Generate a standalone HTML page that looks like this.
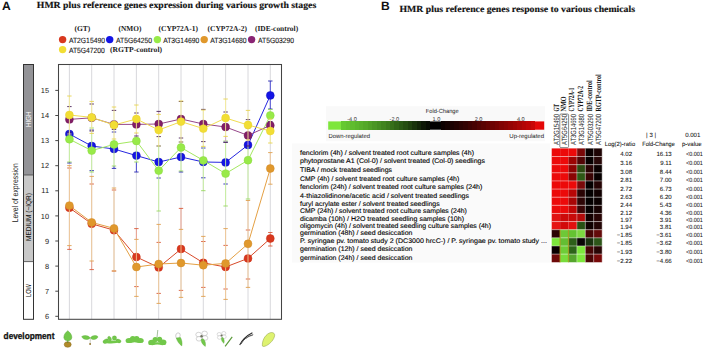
<!DOCTYPE html>
<html><head><meta charset="utf-8"><style>
html,body{margin:0;padding:0;background:#fff;}
body{width:708px;height:350px;overflow:hidden;position:relative;}
svg{position:absolute;left:0;top:0;}
text{font-family:"Liberation Sans",sans-serif;text-rendering:geometricPrecision;}
.lbl{font-size:12.1px;font-weight:bold;fill:#111;}
.tt{font-family:"Liberation Serif",serif;font-size:9.3px;font-weight:bold;fill:#111;stroke:#111;stroke-width:0.15px;}
.glab{font-family:"Liberation Serif",serif;font-size:7.6px;font-weight:bold;fill:#222;}
.gid{font-size:7.6px;fill:#111;stroke:#111;stroke-width:0.1px;}
.lvl{font-size:6.4px;}
.axl{font-size:7.4px;fill:#222;}
.tick{font-size:7.4px;fill:#222;}
.sc{font-size:5.6px;fill:#333;}
.sl{font-size:6px;fill:#222;}
.cid{font-size:7.6px;fill:#1a1a1a;}
.clab{font-family:"Liberation Serif",serif;font-size:8px;font-weight:bold;fill:#111;}
.rl{font-size:6.7px;fill:#000;stroke:#000;stroke-width:0.12px;}
.tb{font-size:6.1px;fill:#111;stroke:#111;stroke-width:0.06px;}
.dev{font-size:9.2px;font-weight:bold;fill:#111;stroke:#111;stroke-width:0.3px;}
</style></head><body>
<svg width="708" height="350" viewBox="0 0 708 350">
<text x="2" y="10.2" class="lbl">A</text>
<text x="36.8" y="8.3" class="tt" textLength="279.4" lengthAdjust="spacingAndGlyphs">HMR plus reference genes expression during various growth stages</text>
<circle cx="62.6" cy="39.6" r="3.7" fill="#d8381e"/>
<text x="68.9" y="42.5" class="gid" textLength="36.1" lengthAdjust="spacingAndGlyphs">AT2G15490</text>
<text x="74.5" y="31.4" class="glab" textLength="15.8" lengthAdjust="spacingAndGlyphs">(GT)</text>
<circle cx="109.7" cy="39.6" r="3.7" fill="#1414e6"/>
<text x="116" y="42.5" class="gid" textLength="36" lengthAdjust="spacingAndGlyphs">AT5G64250</text>
<text x="118.6" y="31.4" class="glab" textLength="22.8" lengthAdjust="spacingAndGlyphs">(NMO)</text>
<circle cx="157.4" cy="39.6" r="3.7" fill="#98ea48"/>
<text x="163.2" y="42.5" class="gid" textLength="36" lengthAdjust="spacingAndGlyphs">AT3G14690</text>
<text x="158.5" y="31.4" class="glab" textLength="39.5" lengthAdjust="spacingAndGlyphs">(CYP72A-1)</text>
<circle cx="204.2" cy="39.6" r="3.7" fill="#e0982c"/>
<text x="210.2" y="42.5" class="gid" textLength="36.4" lengthAdjust="spacingAndGlyphs">AT3G14680</text>
<text x="207.6" y="31.4" class="glab" textLength="39.4" lengthAdjust="spacingAndGlyphs">(CYP72A-2)</text>
<circle cx="251.6" cy="39.6" r="3.7" fill="#8a2474"/>
<text x="258" y="42.5" class="gid" textLength="36" lengthAdjust="spacingAndGlyphs">AT5G03290</text>
<text x="255" y="31.4" class="glab" textLength="43.1" lengthAdjust="spacingAndGlyphs">(IDE-control)</text>
<circle cx="62.6" cy="49.6" r="3.7" fill="#f2de34"/>
<text x="68.9" y="52.5" class="gid" textLength="36" lengthAdjust="spacingAndGlyphs">AT5G47200</text>
<text x="110" y="51.5" class="glab" textLength="52.1" lengthAdjust="spacingAndGlyphs">(RGTP-control)</text>
<rect x="23.5" y="64.5" width="10" height="110.5" fill="#939397"/>
<rect x="23.5" y="175" width="10" height="86.6" fill="#c8c8c8"/>
<rect x="23.5" y="64.5" width="10" height="254.8" fill="none" stroke="#333" stroke-width="1"/>
<line x1="23.5" y1="175" x2="33.5" y2="175" stroke="#444" stroke-width="0.8"/>
<line x1="23.5" y1="261.6" x2="33.5" y2="261.6" stroke="#444" stroke-width="0.8"/>
<text transform="translate(31.1,119.3) rotate(-90)" class="lvl" style="font-size:7.4px" fill="#fff" text-anchor="middle" textLength="15.5" lengthAdjust="spacingAndGlyphs">HIGH</text>
<text transform="translate(31.1,217) rotate(-90)" class="lvl" style="font-size:7.2px" fill="#111" text-anchor="middle" textLength="48" lengthAdjust="spacingAndGlyphs">MEDIUM (~IQR)</text>
<text transform="translate(30.8,290.5) rotate(-90)" class="lvl" style="font-size:7.4px" fill="#111" text-anchor="middle" textLength="13" lengthAdjust="spacingAndGlyphs">LOW</text>
<text transform="translate(18.4,192.8) rotate(-90)" class="axl" style="font-size:8.4px" text-anchor="middle" textLength="59" lengthAdjust="spacingAndGlyphs">Level of expression</text>
<line x1="69.4" y1="65" x2="69.4" y2="319" stroke="#d4d4d8" stroke-width="0.9"/>
<line x1="91.7" y1="65" x2="91.7" y2="319" stroke="#d4d4d8" stroke-width="0.9"/>
<line x1="114" y1="65" x2="114" y2="319" stroke="#d4d4d8" stroke-width="0.9"/>
<line x1="136.4" y1="65" x2="136.4" y2="319" stroke="#d4d4d8" stroke-width="0.9"/>
<line x1="158.7" y1="65" x2="158.7" y2="319" stroke="#d4d4d8" stroke-width="0.9"/>
<line x1="181" y1="65" x2="181" y2="319" stroke="#d4d4d8" stroke-width="0.9"/>
<line x1="203.3" y1="65" x2="203.3" y2="319" stroke="#d4d4d8" stroke-width="0.9"/>
<line x1="225.6" y1="65" x2="225.6" y2="319" stroke="#d4d4d8" stroke-width="0.9"/>
<line x1="248" y1="65" x2="248" y2="319" stroke="#d4d4d8" stroke-width="0.9"/>
<line x1="270.3" y1="65" x2="270.3" y2="319" stroke="#d4d4d8" stroke-width="0.9"/>
<line x1="55.3" y1="316.3" x2="58" y2="316.3" stroke="#333" stroke-width="0.9"/>
<text x="49" y="318.9" class="tick" text-anchor="end">6</text>
<line x1="55.3" y1="291.2" x2="58" y2="291.2" stroke="#333" stroke-width="0.9"/>
<text x="49" y="293.8" class="tick" text-anchor="end">7</text>
<line x1="55.3" y1="266.1" x2="58" y2="266.1" stroke="#333" stroke-width="0.9"/>
<text x="49" y="268.7" class="tick" text-anchor="end">8</text>
<line x1="55.3" y1="241" x2="58" y2="241" stroke="#333" stroke-width="0.9"/>
<text x="49" y="243.6" class="tick" text-anchor="end">9</text>
<line x1="55.3" y1="215.9" x2="58" y2="215.9" stroke="#333" stroke-width="0.9"/>
<text x="49" y="218.5" class="tick" text-anchor="end">10</text>
<line x1="55.3" y1="190.8" x2="58" y2="190.8" stroke="#333" stroke-width="0.9"/>
<text x="49" y="193.4" class="tick" text-anchor="end">11</text>
<line x1="55.3" y1="165.7" x2="58" y2="165.7" stroke="#333" stroke-width="0.9"/>
<text x="49" y="168.3" class="tick" text-anchor="end">12</text>
<line x1="55.3" y1="140.6" x2="58" y2="140.6" stroke="#333" stroke-width="0.9"/>
<text x="49" y="143.2" class="tick" text-anchor="end">13</text>
<line x1="55.3" y1="115.5" x2="58" y2="115.5" stroke="#333" stroke-width="0.9"/>
<text x="49" y="118.1" class="tick" text-anchor="end">14</text>
<line x1="55.3" y1="90.4" x2="58" y2="90.4" stroke="#333" stroke-width="0.9"/>
<text x="49" y="93" class="tick" text-anchor="end">15</text>
<line x1="69.4" y1="245.6" x2="69.4" y2="249.4" stroke="#ec9a84" stroke-width="0.9"/>
<line x1="67.2" y1="168" x2="71.6" y2="168" stroke="#d85a3a" stroke-width="0.9"/>
<line x1="67.2" y1="249.4" x2="71.6" y2="249.4" stroke="#d85a3a" stroke-width="0.9"/>
<line x1="91.7" y1="261" x2="91.7" y2="269.6" stroke="#ec9a84" stroke-width="0.9"/>
<line x1="89.5" y1="184" x2="93.9" y2="184" stroke="#d85a3a" stroke-width="0.9"/>
<line x1="89.5" y1="269.6" x2="93.9" y2="269.6" stroke="#d85a3a" stroke-width="0.9"/>
<line x1="111.8" y1="190" x2="116.2" y2="190" stroke="#d85a3a" stroke-width="0.9"/>
<line x1="111.8" y1="271" x2="116.2" y2="271" stroke="#d85a3a" stroke-width="0.9"/>
<line x1="136.4" y1="228.6" x2="136.4" y2="239.4" stroke="#ec9a84" stroke-width="0.9"/>
<line x1="134.2" y1="228.6" x2="138.6" y2="228.6" stroke="#d85a3a" stroke-width="0.9"/>
<line x1="134.2" y1="286.6" x2="138.6" y2="286.6" stroke="#d85a3a" stroke-width="0.9"/>
<line x1="156.5" y1="242.4" x2="160.9" y2="242.4" stroke="#d85a3a" stroke-width="0.9"/>
<line x1="156.5" y1="293.4" x2="160.9" y2="293.4" stroke="#d85a3a" stroke-width="0.9"/>
<line x1="181" y1="208.4" x2="181" y2="229.4" stroke="#ec9a84" stroke-width="0.9"/>
<line x1="178.8" y1="208.4" x2="183.2" y2="208.4" stroke="#d85a3a" stroke-width="0.9"/>
<line x1="178.8" y1="290.4" x2="183.2" y2="290.4" stroke="#d85a3a" stroke-width="0.9"/>
<line x1="201.1" y1="241.5" x2="205.5" y2="241.5" stroke="#d85a3a" stroke-width="0.9"/>
<line x1="201.1" y1="287.4" x2="205.5" y2="287.4" stroke="#d85a3a" stroke-width="0.9"/>
<line x1="223.4" y1="245.4" x2="227.8" y2="245.4" stroke="#d85a3a" stroke-width="0.9"/>
<line x1="223.4" y1="289" x2="227.8" y2="289" stroke="#d85a3a" stroke-width="0.9"/>
<line x1="245.8" y1="230" x2="250.2" y2="230" stroke="#d85a3a" stroke-width="0.9"/>
<line x1="245.8" y1="279" x2="250.2" y2="279" stroke="#d85a3a" stroke-width="0.9"/>
<line x1="270.3" y1="232.5" x2="270.3" y2="246" stroke="#ec9a84" stroke-width="0.9"/>
<line x1="268.1" y1="232.5" x2="272.5" y2="232.5" stroke="#d85a3a" stroke-width="0.9"/>
<line x1="268.1" y1="246" x2="272.5" y2="246" stroke="#d85a3a" stroke-width="0.9"/>
<polyline points="69.4,207.8 91.7,223.8 114,230.2 136.4,257 158.7,267.4 181,249 203.3,262.8 225.6,267 248,258.4 270.3,238.5" fill="none" stroke="#d84a2a" stroke-width="1"/>
<circle cx="69.4" cy="207.8" r="3.95" fill="#d8381e" stroke="#c83018" stroke-width="0.5"/>
<circle cx="91.7" cy="223.8" r="3.95" fill="#d8381e" stroke="#c83018" stroke-width="0.5"/>
<circle cx="114" cy="230.2" r="3.95" fill="#d8381e" stroke="#c83018" stroke-width="0.5"/>
<circle cx="136.4" cy="257" r="3.95" fill="#d8381e" stroke="#c83018" stroke-width="0.5"/>
<circle cx="158.7" cy="267.4" r="3.95" fill="#d8381e" stroke="#c83018" stroke-width="0.5"/>
<circle cx="181" cy="249" r="3.95" fill="#d8381e" stroke="#c83018" stroke-width="0.5"/>
<circle cx="203.3" cy="262.8" r="3.95" fill="#d8381e" stroke="#c83018" stroke-width="0.5"/>
<circle cx="225.6" cy="267" r="3.95" fill="#d8381e" stroke="#c83018" stroke-width="0.5"/>
<circle cx="248" cy="258.4" r="3.95" fill="#d8381e" stroke="#c83018" stroke-width="0.5"/>
<circle cx="270.3" cy="238.5" r="3.95" fill="#d8381e" stroke="#c83018" stroke-width="0.5"/>
<line x1="69.4" y1="162" x2="69.4" y2="163" stroke="#4040d4" stroke-width="0.9"/>
<line x1="67.2" y1="118" x2="71.6" y2="118" stroke="#2828b0" stroke-width="0.9"/>
<line x1="67.2" y1="163" x2="71.6" y2="163" stroke="#2828b0" stroke-width="0.9"/>
<line x1="89.5" y1="130" x2="93.9" y2="130" stroke="#2828b0" stroke-width="0.9"/>
<line x1="89.5" y1="170.6" x2="93.9" y2="170.6" stroke="#2828b0" stroke-width="0.9"/>
<line x1="114" y1="166" x2="114" y2="168.4" stroke="#4040d4" stroke-width="0.9"/>
<line x1="111.8" y1="132" x2="116.2" y2="132" stroke="#2828b0" stroke-width="0.9"/>
<line x1="111.8" y1="168.4" x2="116.2" y2="168.4" stroke="#2828b0" stroke-width="0.9"/>
<line x1="136.4" y1="162" x2="136.4" y2="172" stroke="#4040d4" stroke-width="0.9"/>
<line x1="134.2" y1="140" x2="138.6" y2="140" stroke="#2828b0" stroke-width="0.9"/>
<line x1="134.2" y1="172" x2="138.6" y2="172" stroke="#2828b0" stroke-width="0.9"/>
<line x1="156.5" y1="146" x2="160.9" y2="146" stroke="#2828b0" stroke-width="0.9"/>
<line x1="156.5" y1="178" x2="160.9" y2="178" stroke="#2828b0" stroke-width="0.9"/>
<line x1="181" y1="171" x2="181" y2="172" stroke="#4040d4" stroke-width="0.9"/>
<line x1="178.8" y1="142" x2="183.2" y2="142" stroke="#2828b0" stroke-width="0.9"/>
<line x1="178.8" y1="172" x2="183.2" y2="172" stroke="#2828b0" stroke-width="0.9"/>
<line x1="201.1" y1="148" x2="205.5" y2="148" stroke="#2828b0" stroke-width="0.9"/>
<line x1="201.1" y1="177.8" x2="205.5" y2="177.8" stroke="#2828b0" stroke-width="0.9"/>
<line x1="223.4" y1="142" x2="227.8" y2="142" stroke="#2828b0" stroke-width="0.9"/>
<line x1="223.4" y1="184" x2="227.8" y2="184" stroke="#2828b0" stroke-width="0.9"/>
<line x1="245.8" y1="128" x2="250.2" y2="128" stroke="#2828b0" stroke-width="0.9"/>
<line x1="245.8" y1="161" x2="250.2" y2="161" stroke="#2828b0" stroke-width="0.9"/>
<line x1="270.3" y1="81" x2="270.3" y2="109" stroke="#4040d4" stroke-width="0.9"/>
<line x1="268.1" y1="81" x2="272.5" y2="81" stroke="#2828b0" stroke-width="0.9"/>
<line x1="268.1" y1="109" x2="272.5" y2="109" stroke="#2828b0" stroke-width="0.9"/>
<polyline points="69.4,134 91.7,146 114,149 136.4,155.6 158.7,162 181,157 203.3,162 225.6,162.4 248,145 270.3,95.4" fill="none" stroke="#2626e0" stroke-width="1"/>
<circle cx="69.4" cy="134" r="3.95" fill="#1414e6" stroke="#1010b8" stroke-width="0.5"/>
<circle cx="91.7" cy="146" r="3.95" fill="#1414e6" stroke="#1010b8" stroke-width="0.5"/>
<circle cx="114" cy="149" r="3.95" fill="#1414e6" stroke="#1010b8" stroke-width="0.5"/>
<circle cx="136.4" cy="155.6" r="3.95" fill="#1414e6" stroke="#1010b8" stroke-width="0.5"/>
<circle cx="158.7" cy="162" r="3.95" fill="#1414e6" stroke="#1010b8" stroke-width="0.5"/>
<circle cx="181" cy="157" r="3.95" fill="#1414e6" stroke="#1010b8" stroke-width="0.5"/>
<circle cx="203.3" cy="162" r="3.95" fill="#1414e6" stroke="#1010b8" stroke-width="0.5"/>
<circle cx="225.6" cy="162.4" r="3.95" fill="#1414e6" stroke="#1010b8" stroke-width="0.5"/>
<circle cx="248" cy="145" r="3.95" fill="#1414e6" stroke="#1010b8" stroke-width="0.5"/>
<circle cx="270.3" cy="95.4" r="3.95" fill="#1414e6" stroke="#1010b8" stroke-width="0.5"/>
<line x1="69.4" y1="134" x2="69.4" y2="162" stroke="#c4f098" stroke-width="0.9"/>
<line x1="67.2" y1="116" x2="71.6" y2="116" stroke="#98d860" stroke-width="0.9"/>
<line x1="67.2" y1="162" x2="71.6" y2="162" stroke="#98d860" stroke-width="0.9"/>
<line x1="91.7" y1="133.4" x2="91.7" y2="172" stroke="#c4f098" stroke-width="0.9"/>
<line x1="89.5" y1="128" x2="93.9" y2="128" stroke="#98d860" stroke-width="0.9"/>
<line x1="89.5" y1="172" x2="93.9" y2="172" stroke="#98d860" stroke-width="0.9"/>
<line x1="114" y1="139" x2="114" y2="166" stroke="#c4f098" stroke-width="0.9"/>
<line x1="111.8" y1="122" x2="116.2" y2="122" stroke="#98d860" stroke-width="0.9"/>
<line x1="111.8" y1="166" x2="116.2" y2="166" stroke="#98d860" stroke-width="0.9"/>
<line x1="136.4" y1="136" x2="136.4" y2="162" stroke="#c4f098" stroke-width="0.9"/>
<line x1="134.2" y1="120" x2="138.6" y2="120" stroke="#98d860" stroke-width="0.9"/>
<line x1="134.2" y1="162" x2="138.6" y2="162" stroke="#98d860" stroke-width="0.9"/>
<line x1="158.7" y1="146" x2="158.7" y2="211" stroke="#c4f098" stroke-width="0.9"/>
<line x1="156.5" y1="130" x2="160.9" y2="130" stroke="#98d860" stroke-width="0.9"/>
<line x1="156.5" y1="211" x2="160.9" y2="211" stroke="#98d860" stroke-width="0.9"/>
<line x1="181" y1="142" x2="181" y2="171" stroke="#c4f098" stroke-width="0.9"/>
<line x1="178.8" y1="124" x2="183.2" y2="124" stroke="#98d860" stroke-width="0.9"/>
<line x1="178.8" y1="171" x2="183.2" y2="171" stroke="#98d860" stroke-width="0.9"/>
<line x1="203.3" y1="146.4" x2="203.3" y2="190.7" stroke="#c4f098" stroke-width="0.9"/>
<line x1="201.1" y1="131" x2="205.5" y2="131" stroke="#98d860" stroke-width="0.9"/>
<line x1="201.1" y1="190.7" x2="205.5" y2="190.7" stroke="#98d860" stroke-width="0.9"/>
<line x1="225.6" y1="142.4" x2="225.6" y2="206" stroke="#c4f098" stroke-width="0.9"/>
<line x1="223.4" y1="141" x2="227.8" y2="141" stroke="#98d860" stroke-width="0.9"/>
<line x1="223.4" y1="206" x2="227.8" y2="206" stroke="#98d860" stroke-width="0.9"/>
<line x1="248" y1="146" x2="248" y2="199" stroke="#c4f098" stroke-width="0.9"/>
<line x1="245.8" y1="122" x2="250.2" y2="122" stroke="#98d860" stroke-width="0.9"/>
<line x1="245.8" y1="199" x2="250.2" y2="199" stroke="#98d860" stroke-width="0.9"/>
<line x1="270.3" y1="109.5" x2="270.3" y2="119" stroke="#c4f098" stroke-width="0.9"/>
<line x1="268.1" y1="109.5" x2="272.5" y2="109.5" stroke="#98d860" stroke-width="0.9"/>
<line x1="268.1" y1="123" x2="272.5" y2="123" stroke="#98d860" stroke-width="0.9"/>
<polyline points="69.4,139.2 91.7,150.6 114,144.4 136.4,141 158.7,170.6 181,147.5 203.3,160.4 225.6,173.6 248,160.2 270.3,115.4" fill="none" stroke="#a4e860" stroke-width="1"/>
<circle cx="69.4" cy="139.2" r="3.95" fill="#98ea48" stroke="#88d840" stroke-width="0.5"/>
<circle cx="91.7" cy="150.6" r="3.95" fill="#98ea48" stroke="#88d840" stroke-width="0.5"/>
<circle cx="114" cy="144.4" r="3.95" fill="#98ea48" stroke="#88d840" stroke-width="0.5"/>
<circle cx="136.4" cy="141" r="3.95" fill="#98ea48" stroke="#88d840" stroke-width="0.5"/>
<circle cx="158.7" cy="170.6" r="3.95" fill="#98ea48" stroke="#88d840" stroke-width="0.5"/>
<circle cx="181" cy="147.5" r="3.95" fill="#98ea48" stroke="#88d840" stroke-width="0.5"/>
<circle cx="203.3" cy="160.4" r="3.95" fill="#98ea48" stroke="#88d840" stroke-width="0.5"/>
<circle cx="225.6" cy="173.6" r="3.95" fill="#98ea48" stroke="#88d840" stroke-width="0.5"/>
<circle cx="248" cy="160.2" r="3.95" fill="#98ea48" stroke="#88d840" stroke-width="0.5"/>
<circle cx="270.3" cy="115.4" r="3.95" fill="#98ea48" stroke="#88d840" stroke-width="0.5"/>
<line x1="69.4" y1="165.6" x2="69.4" y2="245.6" stroke="#f0c490" stroke-width="0.9"/>
<line x1="67.2" y1="165.6" x2="71.6" y2="165.6" stroke="#e0a050" stroke-width="0.9"/>
<line x1="67.2" y1="245.6" x2="71.6" y2="245.6" stroke="#e0a050" stroke-width="0.9"/>
<line x1="91.7" y1="176.4" x2="91.7" y2="261" stroke="#f0c490" stroke-width="0.9"/>
<line x1="89.5" y1="176.4" x2="93.9" y2="176.4" stroke="#e0a050" stroke-width="0.9"/>
<line x1="89.5" y1="261" x2="93.9" y2="261" stroke="#e0a050" stroke-width="0.9"/>
<line x1="114" y1="188" x2="114" y2="271" stroke="#f0c490" stroke-width="0.9"/>
<line x1="111.8" y1="188" x2="116.2" y2="188" stroke="#e0a050" stroke-width="0.9"/>
<line x1="111.8" y1="271" x2="116.2" y2="271" stroke="#e0a050" stroke-width="0.9"/>
<line x1="136.4" y1="239.4" x2="136.4" y2="296.4" stroke="#f0c490" stroke-width="0.9"/>
<line x1="134.2" y1="239.4" x2="138.6" y2="239.4" stroke="#e0a050" stroke-width="0.9"/>
<line x1="134.2" y1="296.4" x2="138.6" y2="296.4" stroke="#e0a050" stroke-width="0.9"/>
<line x1="158.7" y1="224.4" x2="158.7" y2="303.4" stroke="#f0c490" stroke-width="0.9"/>
<line x1="156.5" y1="224.4" x2="160.9" y2="224.4" stroke="#e0a050" stroke-width="0.9"/>
<line x1="156.5" y1="303.4" x2="160.9" y2="303.4" stroke="#e0a050" stroke-width="0.9"/>
<line x1="181" y1="229.4" x2="181" y2="297.4" stroke="#f0c490" stroke-width="0.9"/>
<line x1="178.8" y1="229.4" x2="183.2" y2="229.4" stroke="#e0a050" stroke-width="0.9"/>
<line x1="178.8" y1="297.4" x2="183.2" y2="297.4" stroke="#e0a050" stroke-width="0.9"/>
<line x1="203.3" y1="236.4" x2="203.3" y2="296.4" stroke="#f0c490" stroke-width="0.9"/>
<line x1="201.1" y1="236.4" x2="205.5" y2="236.4" stroke="#e0a050" stroke-width="0.9"/>
<line x1="201.1" y1="296.4" x2="205.5" y2="296.4" stroke="#e0a050" stroke-width="0.9"/>
<line x1="225.6" y1="228.6" x2="225.6" y2="299.4" stroke="#f0c490" stroke-width="0.9"/>
<line x1="223.4" y1="228.6" x2="227.8" y2="228.6" stroke="#e0a050" stroke-width="0.9"/>
<line x1="223.4" y1="299.4" x2="227.8" y2="299.4" stroke="#e0a050" stroke-width="0.9"/>
<line x1="248" y1="200.5" x2="248" y2="287.4" stroke="#f0c490" stroke-width="0.9"/>
<line x1="245.8" y1="200.5" x2="250.2" y2="200.5" stroke="#e0a050" stroke-width="0.9"/>
<line x1="245.8" y1="287.4" x2="250.2" y2="287.4" stroke="#e0a050" stroke-width="0.9"/>
<line x1="270.3" y1="152.6" x2="270.3" y2="184.2" stroke="#f0c490" stroke-width="0.9"/>
<line x1="268.1" y1="152.6" x2="272.5" y2="152.6" stroke="#e0a050" stroke-width="0.9"/>
<line x1="268.1" y1="184.2" x2="272.5" y2="184.2" stroke="#e0a050" stroke-width="0.9"/>
<polyline points="69.4,205.6 91.7,222.4 114,228.4 136.4,267 158.7,264 181,263 203.3,265.2 225.6,263.4 248,243.8 270.3,168.5" fill="none" stroke="#e4a044" stroke-width="1"/>
<circle cx="69.4" cy="205.6" r="3.95" fill="#e0982c" stroke="#d08a28" stroke-width="0.5"/>
<circle cx="91.7" cy="222.4" r="3.95" fill="#e0982c" stroke="#d08a28" stroke-width="0.5"/>
<circle cx="114" cy="228.4" r="3.95" fill="#e0982c" stroke="#d08a28" stroke-width="0.5"/>
<circle cx="136.4" cy="267" r="3.95" fill="#e0982c" stroke="#d08a28" stroke-width="0.5"/>
<circle cx="158.7" cy="264" r="3.95" fill="#e0982c" stroke="#d08a28" stroke-width="0.5"/>
<circle cx="181" cy="263" r="3.95" fill="#e0982c" stroke="#d08a28" stroke-width="0.5"/>
<circle cx="203.3" cy="265.2" r="3.95" fill="#e0982c" stroke="#d08a28" stroke-width="0.5"/>
<circle cx="225.6" cy="263.4" r="3.95" fill="#e0982c" stroke="#d08a28" stroke-width="0.5"/>
<circle cx="248" cy="243.8" r="3.95" fill="#e0982c" stroke="#d08a28" stroke-width="0.5"/>
<circle cx="270.3" cy="168.5" r="3.95" fill="#e0982c" stroke="#d08a28" stroke-width="0.5"/>
<line x1="67.2" y1="106.6" x2="71.6" y2="106.6" stroke="#4a2058" stroke-width="0.9"/>
<line x1="67.2" y1="132.2" x2="71.6" y2="132.2" stroke="#4a2058" stroke-width="0.9"/>
<line x1="89.5" y1="104" x2="93.9" y2="104" stroke="#4a2058" stroke-width="0.9"/>
<line x1="89.5" y1="131" x2="93.9" y2="131" stroke="#4a2058" stroke-width="0.9"/>
<line x1="111.8" y1="110.4" x2="116.2" y2="110.4" stroke="#4a2058" stroke-width="0.9"/>
<line x1="111.8" y1="129.4" x2="116.2" y2="129.4" stroke="#4a2058" stroke-width="0.9"/>
<line x1="136.4" y1="133" x2="136.4" y2="136" stroke="#d0a0c8" stroke-width="0.9"/>
<line x1="134.2" y1="113" x2="138.6" y2="113" stroke="#4a2058" stroke-width="0.9"/>
<line x1="134.2" y1="136" x2="138.6" y2="136" stroke="#4a2058" stroke-width="0.9"/>
<line x1="158.7" y1="111.4" x2="158.7" y2="114.4" stroke="#d0a0c8" stroke-width="0.9"/>
<line x1="156.5" y1="111.4" x2="160.9" y2="111.4" stroke="#4a2058" stroke-width="0.9"/>
<line x1="156.5" y1="136.6" x2="160.9" y2="136.6" stroke="#4a2058" stroke-width="0.9"/>
<line x1="178.8" y1="101.5" x2="183.2" y2="101.5" stroke="#4a2058" stroke-width="0.9"/>
<line x1="178.8" y1="138" x2="183.2" y2="138" stroke="#4a2058" stroke-width="0.9"/>
<line x1="203.3" y1="109.4" x2="203.3" y2="110" stroke="#d0a0c8" stroke-width="0.9"/>
<line x1="201.1" y1="109.4" x2="205.5" y2="109.4" stroke="#4a2058" stroke-width="0.9"/>
<line x1="201.1" y1="141.6" x2="205.5" y2="141.6" stroke="#4a2058" stroke-width="0.9"/>
<line x1="225.6" y1="136.4" x2="225.6" y2="142.4" stroke="#d0a0c8" stroke-width="0.9"/>
<line x1="223.4" y1="112" x2="227.8" y2="112" stroke="#4a2058" stroke-width="0.9"/>
<line x1="223.4" y1="142.4" x2="227.8" y2="142.4" stroke="#4a2058" stroke-width="0.9"/>
<line x1="248" y1="140" x2="248" y2="146" stroke="#d0a0c8" stroke-width="0.9"/>
<line x1="245.8" y1="119.6" x2="250.2" y2="119.6" stroke="#4a2058" stroke-width="0.9"/>
<line x1="245.8" y1="146" x2="250.2" y2="146" stroke="#4a2058" stroke-width="0.9"/>
<line x1="268.1" y1="121.5" x2="272.5" y2="121.5" stroke="#4a2058" stroke-width="0.9"/>
<line x1="268.1" y1="129.5" x2="272.5" y2="129.5" stroke="#4a2058" stroke-width="0.9"/>
<polyline points="69.4,119.4 91.7,117.8 114,124.4 136.4,124.4 158.7,124 181,119 203.3,124 225.6,127 248,135.4 270.3,125.4" fill="none" stroke="#96488a" stroke-width="1"/>
<circle cx="69.4" cy="119.4" r="3.95" fill="#821e66" stroke="#701858" stroke-width="0.5"/>
<circle cx="91.7" cy="117.8" r="3.95" fill="#821e66" stroke="#701858" stroke-width="0.5"/>
<circle cx="114" cy="124.4" r="3.95" fill="#821e66" stroke="#701858" stroke-width="0.5"/>
<circle cx="136.4" cy="124.4" r="3.95" fill="#821e66" stroke="#701858" stroke-width="0.5"/>
<circle cx="158.7" cy="124" r="3.95" fill="#821e66" stroke="#701858" stroke-width="0.5"/>
<circle cx="181" cy="119" r="3.95" fill="#821e66" stroke="#701858" stroke-width="0.5"/>
<circle cx="203.3" cy="124" r="3.95" fill="#821e66" stroke="#701858" stroke-width="0.5"/>
<circle cx="225.6" cy="127" r="3.95" fill="#821e66" stroke="#701858" stroke-width="0.5"/>
<circle cx="248" cy="135.4" r="3.95" fill="#821e66" stroke="#701858" stroke-width="0.5"/>
<circle cx="270.3" cy="125.4" r="3.95" fill="#821e66" stroke="#701858" stroke-width="0.5"/>
<line x1="69.4" y1="96" x2="69.4" y2="134" stroke="#f6ec96" stroke-width="0.9"/>
<line x1="67.2" y1="96" x2="71.6" y2="96" stroke="#e8d450" stroke-width="0.9"/>
<line x1="67.2" y1="134" x2="71.6" y2="134" stroke="#e8d450" stroke-width="0.9"/>
<line x1="91.7" y1="101.4" x2="91.7" y2="133.4" stroke="#f6ec96" stroke-width="0.9"/>
<line x1="89.5" y1="101.4" x2="93.9" y2="101.4" stroke="#e8d450" stroke-width="0.9"/>
<line x1="89.5" y1="133.4" x2="93.9" y2="133.4" stroke="#e8d450" stroke-width="0.9"/>
<line x1="114" y1="107" x2="114" y2="139" stroke="#f6ec96" stroke-width="0.9"/>
<line x1="111.8" y1="107" x2="116.2" y2="107" stroke="#e8d450" stroke-width="0.9"/>
<line x1="111.8" y1="139" x2="116.2" y2="139" stroke="#e8d450" stroke-width="0.9"/>
<line x1="136.4" y1="105" x2="136.4" y2="133" stroke="#f6ec96" stroke-width="0.9"/>
<line x1="134.2" y1="105" x2="138.6" y2="105" stroke="#e8d450" stroke-width="0.9"/>
<line x1="134.2" y1="133" x2="138.6" y2="133" stroke="#e8d450" stroke-width="0.9"/>
<line x1="158.7" y1="114.4" x2="158.7" y2="146" stroke="#f6ec96" stroke-width="0.9"/>
<line x1="156.5" y1="114.4" x2="160.9" y2="114.4" stroke="#e8d450" stroke-width="0.9"/>
<line x1="156.5" y1="146" x2="160.9" y2="146" stroke="#e8d450" stroke-width="0.9"/>
<line x1="181" y1="101" x2="181" y2="142" stroke="#f6ec96" stroke-width="0.9"/>
<line x1="178.8" y1="101" x2="183.2" y2="101" stroke="#e8d450" stroke-width="0.9"/>
<line x1="178.8" y1="142" x2="183.2" y2="142" stroke="#e8d450" stroke-width="0.9"/>
<line x1="203.3" y1="110" x2="203.3" y2="146.4" stroke="#f6ec96" stroke-width="0.9"/>
<line x1="201.1" y1="110" x2="205.5" y2="110" stroke="#e8d450" stroke-width="0.9"/>
<line x1="201.1" y1="146.4" x2="205.5" y2="146.4" stroke="#e8d450" stroke-width="0.9"/>
<line x1="225.6" y1="99" x2="225.6" y2="136.4" stroke="#f6ec96" stroke-width="0.9"/>
<line x1="223.4" y1="99" x2="227.8" y2="99" stroke="#e8d450" stroke-width="0.9"/>
<line x1="223.4" y1="136.4" x2="227.8" y2="136.4" stroke="#e8d450" stroke-width="0.9"/>
<line x1="248" y1="110.4" x2="248" y2="140" stroke="#f6ec96" stroke-width="0.9"/>
<line x1="245.8" y1="110.4" x2="250.2" y2="110.4" stroke="#e8d450" stroke-width="0.9"/>
<line x1="245.8" y1="140" x2="250.2" y2="140" stroke="#e8d450" stroke-width="0.9"/>
<line x1="270.3" y1="119" x2="270.3" y2="143" stroke="#f6ec96" stroke-width="0.9"/>
<line x1="268.1" y1="119" x2="272.5" y2="119" stroke="#e8d450" stroke-width="0.9"/>
<line x1="268.1" y1="143" x2="272.5" y2="143" stroke="#e8d450" stroke-width="0.9"/>
<polyline points="69.4,115 91.7,117.4 114,125 136.4,119 158.7,130 181,121.6 203.3,128.6 225.6,118 248,125 270.3,131" fill="none" stroke="#f0dc50" stroke-width="1"/>
<circle cx="69.4" cy="115" r="3.95" fill="#f2de34" stroke="#e8d030" stroke-width="0.5"/>
<circle cx="91.7" cy="117.4" r="3.95" fill="#f2de34" stroke="#e8d030" stroke-width="0.5"/>
<circle cx="114" cy="125" r="3.95" fill="#f2de34" stroke="#e8d030" stroke-width="0.5"/>
<circle cx="136.4" cy="119" r="3.95" fill="#f2de34" stroke="#e8d030" stroke-width="0.5"/>
<circle cx="158.7" cy="130" r="3.95" fill="#f2de34" stroke="#e8d030" stroke-width="0.5"/>
<circle cx="181" cy="121.6" r="3.95" fill="#f2de34" stroke="#e8d030" stroke-width="0.5"/>
<circle cx="203.3" cy="128.6" r="3.95" fill="#f2de34" stroke="#e8d030" stroke-width="0.5"/>
<circle cx="225.6" cy="118" r="3.95" fill="#f2de34" stroke="#e8d030" stroke-width="0.5"/>
<circle cx="248" cy="125" r="3.95" fill="#f2de34" stroke="#e8d030" stroke-width="0.5"/>
<circle cx="270.3" cy="131" r="3.95" fill="#f2de34" stroke="#e8d030" stroke-width="0.5"/>
<rect x="58.5" y="64.5" width="223" height="254.8" fill="none" stroke="#444" stroke-width="1.05"/>
<text x="3.6" y="339" class="dev" textLength="50.8" lengthAdjust="spacingAndGlyphs">development</text>
<text x="380.9" y="10.3" class="lbl">B</text>
<text x="399.5" y="12.3" class="tt" textLength="235.5" lengthAdjust="spacingAndGlyphs">HMR plus reference genes response to various chemicals</text>
<ellipse cx="67.7" cy="344.5" rx="3.5" ry="2.8" fill="#b08a2a" stroke="#8a6a1a" stroke-width="0.5"/>
<line x1="67.8" y1="339" x2="67.7" y2="343" stroke="#4a8a30" stroke-width="0.7"/>
<path d="M67.8,330.7 C65.5,332.6 63.7,334.8 63.9,337.6 C64.1,339.8 65.8,340.9 67.8,340.9 C69.8,340.9 71.6,339.8 71.8,337.6 C72,334.8 70.1,332.6 67.8,330.7 Z" fill="#72c84a" stroke="#5aa838" stroke-width="0.5"/>
<line x1="90.3" y1="338" x2="90.2" y2="343.4" stroke="#c8c8c0" stroke-width="0.9"/>
<circle cx="90.1" cy="344" r="0.9" fill="#8a6a20"/>
<path d="M90.2,338 C88.5,335.2 84,335 81.7,336.6 C82.8,339.6 87.5,340.6 90.2,338 Z" fill="#72c84a" stroke="#5aa838" stroke-width="0.4"/>
<path d="M90.4,338 C92.2,335.0 96.5,335 98.0,336.8 C97,339.6 92.8,340.6 90.4,338 Z" fill="#72c84a" stroke="#5aa838" stroke-width="0.4"/>
<ellipse cx="105.8" cy="341.2" rx="3" ry="2" transform="rotate(-25 105.8 341.2)" fill="#72c84a" stroke="#5aa838" stroke-width="0.3"/>
<ellipse cx="109.6" cy="338.6" rx="1.6" ry="2.5" transform="rotate(-30 109.6 338.6)" fill="#72c84a" stroke="#5aa838" stroke-width="0.3"/>
<ellipse cx="114.4" cy="338" rx="2.2" ry="2.2" fill="#72c84a" stroke="#5aa838" stroke-width="0.3"/>
<ellipse cx="118.4" cy="341" rx="2.7" ry="1.8" transform="rotate(15 118.4 341)" fill="#72c84a" stroke="#5aa838" stroke-width="0.3"/>
<path d="M103.5,342.4 C107,340.4 114,340 120.5,341.6 C117,343.8 108,344 103.5,342.4 Z" fill="#72c84a"/>
<ellipse cx="129.2" cy="340.6" rx="3.6" ry="2.5" fill="#72c84a"/>
<ellipse cx="132.8" cy="338.6" rx="2.8" ry="2.5" fill="#72c84a"/>
<ellipse cx="136.6" cy="338.4" rx="2.8" ry="2.5" fill="#72c84a"/>
<ellipse cx="140.2" cy="340.4" rx="3.5" ry="2.5" fill="#72c84a"/>
<path d="M125.6,341.8 C128,339.5 141,339.5 143.7,341.6 C142,343.4 139,343.2 134.6,342.3 C130.5,343.2 127,343.4 125.6,341.8 Z" fill="#72c84a"/>
<line x1="157.8" y1="330" x2="156.9" y2="338.5" stroke="#98b890" stroke-width="0.9"/>
<ellipse cx="151.8" cy="342.4" rx="3.6" ry="2.6" fill="#72c84a"/>
<ellipse cx="155.2" cy="339.6" rx="2.6" ry="2.6" fill="#72c84a"/>
<ellipse cx="159.6" cy="339.4" rx="2.6" ry="2.6" fill="#72c84a"/>
<ellipse cx="163" cy="342.2" rx="3.4" ry="2.6" fill="#72c84a"/>
<path d="M148.2,344 C150,341.5 164,341.5 166.3,344 C164.5,345.6 161,345.2 157.3,344.6 C153.5,345.2 150,345.6 148.2,344 Z" fill="#72c84a"/>
<path d="M177.6,333 C175.6,333.5 175.2,336 176.4,338.3 L178.8,338.4 C180.5,336.5 180.6,333.8 179.2,333 Z" fill="#fff" stroke="#9a9a9a" stroke-width="0.5"/>
<path d="M176.3,338 C177,341 179.5,344.5 181.8,345.9 C182.6,343 181.6,339.6 180.5,337.5 Z" fill="#72c84a" stroke="#5aa838" stroke-width="0.4"/>
<ellipse cx="198.6" cy="334.6" rx="2.8" ry="2.3" fill="#fff" stroke="#a0a0a0" stroke-width="0.45"/>
<ellipse cx="204.6" cy="333.4" rx="2.8" ry="2.3" fill="#fff" stroke="#a0a0a0" stroke-width="0.45"/>
<ellipse cx="199.0" cy="338.8" rx="2.8" ry="2.3" fill="#fff" stroke="#a0a0a0" stroke-width="0.45"/>
<ellipse cx="205.1" cy="338.0" rx="2.8" ry="2.3" fill="#fff" stroke="#a0a0a0" stroke-width="0.45"/>
<circle cx="201.6" cy="336.3" r="1.2" fill="#707060"/>
<path d="M201.2,339.2 C200.8,342 203,345 205.3,346.4 C206,343.5 205,340.5 203.2,338.8 Z" fill="#72c84a" stroke="#5aa838" stroke-width="0.4"/>
<ellipse cx="219.2" cy="334.3" rx="2.1" ry="1.8" fill="#fff" stroke="#a8a8a8" stroke-width="0.4"/>
<ellipse cx="223.8" cy="333.3" rx="2.1" ry="1.8" fill="#fff" stroke="#a8a8a8" stroke-width="0.4"/>
<ellipse cx="219.5" cy="337.5" rx="2.1" ry="1.8" fill="#fff" stroke="#a8a8a8" stroke-width="0.4"/>
<ellipse cx="224.1" cy="336.8" rx="2.1" ry="1.8" fill="#fff" stroke="#a8a8a8" stroke-width="0.4"/>
<circle cx="221.6" cy="335.5" r="1" fill="#707060"/>
<path d="M221.6,337.8 C221,340 222.4,342.4 223.9,343.3 C224.6,341.2 224,339 223,337.6 Z" fill="#72c84a" stroke="#5aa838" stroke-width="0.4"/>
<line x1="225.1" y1="346.4" x2="232.2" y2="336.9" stroke="#5a9a3a" stroke-width="1.2"/>
<path d="M239.7,345 C242.5,339.5 246.5,335.8 252.4,332.8" fill="none" stroke="#2a2a2a" stroke-width="1.1"/>
<path d="M241,344 C243.8,339 247.5,336.3 253.2,334.6" fill="none" stroke="#3a3a3a" stroke-width="0.8"/>
<path d="M246,338.4 C248,336.8 250,335.6 252.6,335.4" fill="none" stroke="#555" stroke-width="0.6"/>
<path d="M262.4,346 C261.8,341.5 264.5,335.5 269,333.2 C272.2,331.6 275.2,333 274.6,335.8 C274,339.5 270.5,343.5 266.5,345.6 C264.5,346.6 262.7,346.8 262.4,346 Z" fill="#def270" stroke="#8a9a40" stroke-width="0.5"/>
<rect x="326" y="106.2" width="219" height="35" fill="#f9f9f9"/>
<rect x="292" y="143.5" width="258" height="119" fill="#fafafa"/>
<rect x="328.2" y="121.4" width="13" height="8.3" fill="#7ee63c"/>
<rect x="341.2" y="121.4" width="4.84" height="8.3" fill="rgb(102, 201, 49)" shape-rendering="crispEdges"/>
<rect x="345.64" y="121.4" width="4.84" height="8.3" fill="rgb(99, 194, 48)" shape-rendering="crispEdges"/>
<rect x="350.08" y="121.4" width="4.84" height="8.3" fill="rgb(95, 188, 46)" shape-rendering="crispEdges"/>
<rect x="354.52" y="121.4" width="4.84" height="8.3" fill="rgb(91, 182, 44)" shape-rendering="crispEdges"/>
<rect x="358.96" y="121.4" width="4.84" height="8.3" fill="rgb(88, 175, 43)" shape-rendering="crispEdges"/>
<rect x="363.4" y="121.4" width="4.84" height="8.3" fill="rgb(84, 168, 41)" shape-rendering="crispEdges"/>
<rect x="367.84" y="121.4" width="4.84" height="8.3" fill="rgb(79, 159, 38)" shape-rendering="crispEdges"/>
<rect x="372.28" y="121.4" width="4.84" height="8.3" fill="rgb(74, 150, 36)" shape-rendering="crispEdges"/>
<rect x="376.72" y="121.4" width="4.84" height="8.3" fill="rgb(69, 141, 34)" shape-rendering="crispEdges"/>
<rect x="381.16" y="121.4" width="4.84" height="8.3" fill="rgb(64, 132, 31)" shape-rendering="crispEdges"/>
<rect x="385.6" y="121.4" width="4.84" height="8.3" fill="rgb(59, 122, 29)" shape-rendering="crispEdges"/>
<rect x="390.04" y="121.4" width="4.84" height="8.3" fill="rgb(54, 111, 26)" shape-rendering="crispEdges"/>
<rect x="394.48" y="121.4" width="4.84" height="8.3" fill="rgb(48, 100, 23)" shape-rendering="crispEdges"/>
<rect x="398.92" y="121.4" width="4.84" height="8.3" fill="rgb(42, 89, 20)" shape-rendering="crispEdges"/>
<rect x="403.36" y="121.4" width="4.84" height="8.3" fill="rgb(37, 78, 17)" shape-rendering="crispEdges"/>
<rect x="407.8" y="121.4" width="4.84" height="8.3" fill="rgb(31, 65, 14)" shape-rendering="crispEdges"/>
<rect x="412.24" y="121.4" width="4.84" height="8.3" fill="rgb(24, 51, 11)" shape-rendering="crispEdges"/>
<rect x="416.68" y="121.4" width="4.84" height="8.3" fill="rgb(18, 37, 8)" shape-rendering="crispEdges"/>
<rect x="421.12" y="121.4" width="4.84" height="8.3" fill="rgb(12, 23, 5)" shape-rendering="crispEdges"/>
<rect x="425.56" y="121.4" width="4.84" height="8.3" fill="rgb(7, 12, 3)" shape-rendering="crispEdges"/>
<rect x="430" y="121.4" width="11" height="8.3" fill="#020000"/>
<rect x="441" y="121.4" width="4.88" height="8.3" fill="rgb(12, 0, 0)" shape-rendering="crispEdges"/>
<rect x="445.48" y="121.4" width="4.88" height="8.3" fill="rgb(20, 1, 1)" shape-rendering="crispEdges"/>
<rect x="449.95" y="121.4" width="4.88" height="8.3" fill="rgb(28, 1, 1)" shape-rendering="crispEdges"/>
<rect x="454.43" y="121.4" width="4.88" height="8.3" fill="rgb(36, 1, 1)" shape-rendering="crispEdges"/>
<rect x="458.9" y="121.4" width="4.88" height="8.3" fill="rgb(44, 2, 2)" shape-rendering="crispEdges"/>
<rect x="463.38" y="121.4" width="4.88" height="8.3" fill="rgb(52, 2, 2)" shape-rendering="crispEdges"/>
<rect x="467.86" y="121.4" width="4.88" height="8.3" fill="rgb(62, 2, 2)" shape-rendering="crispEdges"/>
<rect x="472.33" y="121.4" width="4.88" height="8.3" fill="rgb(71, 2, 2)" shape-rendering="crispEdges"/>
<rect x="476.81" y="121.4" width="4.88" height="8.3" fill="rgb(81, 3, 3)" shape-rendering="crispEdges"/>
<rect x="481.29" y="121.4" width="4.88" height="8.3" fill="rgb(90, 3, 3)" shape-rendering="crispEdges"/>
<rect x="485.76" y="121.4" width="4.88" height="8.3" fill="rgb(100, 3, 3)" shape-rendering="crispEdges"/>
<rect x="490.24" y="121.4" width="4.88" height="8.3" fill="rgb(110, 3, 3)" shape-rendering="crispEdges"/>
<rect x="494.71" y="121.4" width="4.88" height="8.3" fill="rgb(119, 3, 3)" shape-rendering="crispEdges"/>
<rect x="499.19" y="121.4" width="4.88" height="8.3" fill="rgb(129, 4, 4)" shape-rendering="crispEdges"/>
<rect x="503.67" y="121.4" width="4.88" height="8.3" fill="rgb(138, 4, 4)" shape-rendering="crispEdges"/>
<rect x="508.14" y="121.4" width="4.88" height="8.3" fill="rgb(148, 4, 4)" shape-rendering="crispEdges"/>
<rect x="512.62" y="121.4" width="4.88" height="8.3" fill="rgb(158, 4, 4)" shape-rendering="crispEdges"/>
<rect x="517.1" y="121.4" width="4.88" height="8.3" fill="rgb(168, 5, 5)" shape-rendering="crispEdges"/>
<rect x="521.57" y="121.4" width="4.88" height="8.3" fill="rgb(179, 5, 5)" shape-rendering="crispEdges"/>
<rect x="526.05" y="121.4" width="4.88" height="8.3" fill="rgb(189, 5, 5)" shape-rendering="crispEdges"/>
<rect x="530.52" y="121.4" width="4.88" height="8.3" fill="rgb(200, 6, 6)" shape-rendering="crispEdges"/>
<rect x="535" y="121.4" width="9.2" height="8.3" fill="#e40808"/>
<text x="352" y="120.6" class="sc" text-anchor="middle">-4.0</text>
<text x="394.4" y="120.6" class="sc" text-anchor="middle">-2.0</text>
<text x="436.4" y="120.6" class="sc" text-anchor="middle">1.0</text>
<text x="478.6" y="120.6" class="sc" text-anchor="middle">2.0</text>
<text x="520.8" y="120.6" class="sc" text-anchor="middle">4.0</text>
<text x="425.8" y="112.8" class="sl" textLength="32.8" lengthAdjust="spacingAndGlyphs">Fold-Change</text>
<text x="328.5" y="138" class="sl" textLength="41.5" lengthAdjust="spacingAndGlyphs">Down-regulated</text>
<text x="509.3" y="138" class="sl" textLength="34.7" lengthAdjust="spacingAndGlyphs">Up-regulated</text>
<text transform="translate(558.9,145) rotate(-90)" class="cid" textLength="31" lengthAdjust="spacingAndGlyphs">AT2G15490</text>
<text transform="translate(559.2,111.5) rotate(-90)" class="clab" textLength="7.5" lengthAdjust="spacingAndGlyphs">GT</text>
<text transform="translate(567.3,145) rotate(-90)" class="cid" textLength="31" lengthAdjust="spacingAndGlyphs">AT5G64250</text>
<text transform="translate(566.4,111.5) rotate(-90)" class="clab" textLength="15.2" lengthAdjust="spacingAndGlyphs">NMO</text>
<text transform="translate(575.7,145) rotate(-90)" class="cid" textLength="31" lengthAdjust="spacingAndGlyphs">AT3G14690</text>
<text transform="translate(574.2,111.5) rotate(-90)" class="clab" textLength="23.9" lengthAdjust="spacingAndGlyphs">CYP72A-1</text>
<text transform="translate(584.1,145) rotate(-90)" class="cid" textLength="31" lengthAdjust="spacingAndGlyphs">AT3G14680</text>
<text transform="translate(582.8,111.5) rotate(-90)" class="clab" textLength="25.5" lengthAdjust="spacingAndGlyphs">CYP72A-2</text>
<text transform="translate(592.5,145) rotate(-90)" class="cid" textLength="31" lengthAdjust="spacingAndGlyphs">AT5G03290</text>
<text transform="translate(591.8,111.5) rotate(-90)" class="clab" textLength="31.3" lengthAdjust="spacingAndGlyphs">IDE-control</text>
<text transform="translate(600.9,145) rotate(-90)" class="cid" textLength="31" lengthAdjust="spacingAndGlyphs">AT5G47200</text>
<text transform="translate(600.6,111.5) rotate(-90)" class="clab" textLength="37.3" lengthAdjust="spacingAndGlyphs">RGTP-control</text>
<rect x="559.8" y="114" width="8.8" height="33.6" rx="1.2" fill="none" stroke="#6a6a6a" stroke-width="0.8"/>
<rect x="551.7" y="148.4" width="8.45" height="8.18" fill="#ec0a0a"/>
<rect x="560.1" y="148.4" width="8.45" height="8.18" fill="#ec0a0a"/>
<rect x="568.5" y="148.4" width="8.45" height="8.18" fill="#ec0a0a"/>
<rect x="576.9" y="148.4" width="8.45" height="8.18" fill="#7a0808"/>
<rect x="585.3" y="148.4" width="8.45" height="8.18" fill="#0a0000"/>
<rect x="593.7" y="148.4" width="8.45" height="8.18" fill="#1e0404"/>
<rect x="551.7" y="156.53" width="8.45" height="8.18" fill="#ec0a0a"/>
<rect x="560.1" y="156.53" width="8.45" height="8.18" fill="#ec0a0a"/>
<rect x="568.5" y="156.53" width="8.45" height="8.18" fill="#9c0404"/>
<rect x="576.9" y="156.53" width="8.45" height="8.18" fill="#520606"/>
<rect x="585.3" y="156.53" width="8.45" height="8.18" fill="#060000"/>
<rect x="593.7" y="156.53" width="8.45" height="8.18" fill="#280808"/>
<rect x="551.7" y="164.66" width="8.45" height="8.18" fill="#ec0a0a"/>
<rect x="560.1" y="164.66" width="8.45" height="8.18" fill="#ec0a0a"/>
<rect x="568.5" y="164.66" width="8.45" height="8.18" fill="#8c0404"/>
<rect x="576.9" y="164.66" width="8.45" height="8.18" fill="#2c4a12"/>
<rect x="585.3" y="164.66" width="8.45" height="8.18" fill="#2a0404"/>
<rect x="593.7" y="164.66" width="8.45" height="8.18" fill="#0a0000"/>
<rect x="551.7" y="172.79" width="8.45" height="8.18" fill="#ec0a0a"/>
<rect x="560.1" y="172.79" width="8.45" height="8.18" fill="#ec0a0a"/>
<rect x="568.5" y="172.79" width="8.45" height="8.18" fill="#8a0404"/>
<rect x="576.9" y="172.79" width="8.45" height="8.18" fill="#2e5a16"/>
<rect x="585.3" y="172.79" width="8.45" height="8.18" fill="#3a0404"/>
<rect x="593.7" y="172.79" width="8.45" height="8.18" fill="#080000"/>
<rect x="551.7" y="180.92" width="8.45" height="8.18" fill="#ec0a0a"/>
<rect x="560.1" y="180.92" width="8.45" height="8.18" fill="#ec0a0a"/>
<rect x="568.5" y="180.92" width="8.45" height="8.18" fill="#ec0a0a"/>
<rect x="576.9" y="180.92" width="8.45" height="8.18" fill="#7a0a0a"/>
<rect x="585.3" y="180.92" width="8.45" height="8.18" fill="#040000"/>
<rect x="593.7" y="180.92" width="8.45" height="8.18" fill="#240404"/>
<rect x="551.7" y="189.05" width="8.45" height="8.18" fill="#ec0a0a"/>
<rect x="560.1" y="189.05" width="8.45" height="8.18" fill="#ec0a0a"/>
<rect x="568.5" y="189.05" width="8.45" height="8.18" fill="#b80606"/>
<rect x="576.9" y="189.05" width="8.45" height="8.18" fill="#2a0404"/>
<rect x="585.3" y="189.05" width="8.45" height="8.18" fill="#040000"/>
<rect x="593.7" y="189.05" width="8.45" height="8.18" fill="#100000"/>
<rect x="551.7" y="197.18" width="8.45" height="8.18" fill="#ec0a0a"/>
<rect x="560.1" y="197.18" width="8.45" height="8.18" fill="#ec0a0a"/>
<rect x="568.5" y="197.18" width="8.45" height="8.18" fill="#a80606"/>
<rect x="576.9" y="197.18" width="8.45" height="8.18" fill="#2e0606"/>
<rect x="585.3" y="197.18" width="8.45" height="8.18" fill="#040000"/>
<rect x="593.7" y="197.18" width="8.45" height="8.18" fill="#0a0000"/>
<rect x="551.7" y="205.31" width="8.45" height="8.18" fill="#ec0a0a"/>
<rect x="560.1" y="205.31" width="8.45" height="8.18" fill="#ec0a0a"/>
<rect x="568.5" y="205.31" width="8.45" height="8.18" fill="#c00606"/>
<rect x="576.9" y="205.31" width="8.45" height="8.18" fill="#3a0606"/>
<rect x="585.3" y="205.31" width="8.45" height="8.18" fill="#060000"/>
<rect x="593.7" y="205.31" width="8.45" height="8.18" fill="#160202"/>
<rect x="551.7" y="213.44" width="8.45" height="8.18" fill="#e11414"/>
<rect x="560.1" y="213.44" width="8.45" height="8.18" fill="#cd0a0a"/>
<rect x="568.5" y="213.44" width="8.45" height="8.18" fill="#c80a0a"/>
<rect x="576.9" y="213.44" width="8.45" height="8.18" fill="#b40a0a"/>
<rect x="585.3" y="213.44" width="8.45" height="8.18" fill="#140000"/>
<rect x="593.7" y="213.44" width="8.45" height="8.18" fill="#280505"/>
<rect x="551.7" y="221.57" width="8.45" height="8.18" fill="#e61414"/>
<rect x="560.1" y="221.57" width="8.45" height="8.18" fill="#d20a0a"/>
<rect x="568.5" y="221.57" width="8.45" height="8.18" fill="#e10f0f"/>
<rect x="576.9" y="221.57" width="8.45" height="8.18" fill="#285014"/>
<rect x="585.3" y="221.57" width="8.45" height="8.18" fill="#0f0000"/>
<rect x="593.7" y="221.57" width="8.45" height="8.18" fill="#230505"/>
<rect x="551.7" y="229.7" width="8.45" height="8.18" fill="#2d0505"/>
<rect x="560.1" y="229.7" width="8.45" height="8.18" fill="#6ec837"/>
<rect x="568.5" y="229.7" width="8.45" height="8.18" fill="#64c332"/>
<rect x="576.9" y="229.7" width="8.45" height="8.18" fill="#7dd741"/>
<rect x="585.3" y="229.7" width="8.45" height="8.18" fill="#460505"/>
<rect x="593.7" y="229.7" width="8.45" height="8.18" fill="#640a0a"/>
<rect x="551.7" y="237.83" width="8.45" height="8.18" fill="#7de63c"/>
<rect x="560.1" y="237.83" width="8.45" height="8.18" fill="#64be32"/>
<rect x="568.5" y="237.83" width="8.45" height="8.18" fill="#2d5f19"/>
<rect x="576.9" y="237.83" width="8.45" height="8.18" fill="#0a0505"/>
<rect x="585.3" y="237.83" width="8.45" height="8.18" fill="#19320f"/>
<rect x="593.7" y="237.83" width="8.45" height="8.18" fill="#2d5519"/>
<rect x="551.7" y="245.96" width="8.45" height="8.18" fill="#0a0000"/>
<rect x="560.1" y="245.96" width="8.45" height="8.18" fill="#6ecd37"/>
<rect x="568.5" y="245.96" width="8.45" height="8.18" fill="#2d6419"/>
<rect x="576.9" y="245.96" width="8.45" height="8.18" fill="#7de63c"/>
<rect x="585.3" y="245.96" width="8.45" height="8.18" fill="#460505"/>
<rect x="593.7" y="245.96" width="8.45" height="8.18" fill="#280505"/>
<rect x="551.7" y="254.09" width="8.45" height="8.18" fill="#6e0a0a"/>
<rect x="560.1" y="254.09" width="8.45" height="8.18" fill="#78dc3c"/>
<rect x="568.5" y="254.09" width="8.45" height="8.18" fill="#55a52d"/>
<rect x="576.9" y="254.09" width="8.45" height="8.18" fill="#7de63c"/>
<rect x="585.3" y="254.09" width="8.45" height="8.18" fill="#4b0505"/>
<rect x="593.7" y="254.09" width="8.45" height="8.18" fill="#780a0a"/>
<line x1="551.7" y1="156.53" x2="602.1" y2="156.53" stroke="#fff" stroke-opacity="0.5" stroke-width="0.9"/>
<line x1="551.7" y1="164.66" x2="602.1" y2="164.66" stroke="#fff" stroke-opacity="0.5" stroke-width="0.9"/>
<line x1="551.7" y1="172.79" x2="602.1" y2="172.79" stroke="#fff" stroke-opacity="0.5" stroke-width="0.9"/>
<line x1="551.7" y1="180.92" x2="602.1" y2="180.92" stroke="#fff" stroke-opacity="0.5" stroke-width="0.9"/>
<line x1="551.7" y1="189.05" x2="602.1" y2="189.05" stroke="#fff" stroke-opacity="0.5" stroke-width="0.9"/>
<line x1="551.7" y1="197.18" x2="602.1" y2="197.18" stroke="#fff" stroke-opacity="0.5" stroke-width="0.9"/>
<line x1="551.7" y1="205.31" x2="602.1" y2="205.31" stroke="#fff" stroke-opacity="0.5" stroke-width="0.9"/>
<line x1="551.7" y1="213.44" x2="602.1" y2="213.44" stroke="#fff" stroke-opacity="0.5" stroke-width="0.9"/>
<line x1="551.7" y1="221.57" x2="602.1" y2="221.57" stroke="#fff" stroke-opacity="0.5" stroke-width="0.9"/>
<line x1="551.7" y1="229.7" x2="602.1" y2="229.7" stroke="#fff" stroke-opacity="0.5" stroke-width="0.9"/>
<line x1="551.7" y1="237.83" x2="602.1" y2="237.83" stroke="#fff" stroke-opacity="0.5" stroke-width="0.9"/>
<line x1="551.7" y1="245.96" x2="602.1" y2="245.96" stroke="#fff" stroke-opacity="0.5" stroke-width="0.9"/>
<line x1="551.7" y1="254.09" x2="602.1" y2="254.09" stroke="#fff" stroke-opacity="0.5" stroke-width="0.9"/>
<line x1="576.9" y1="148.4" x2="576.9" y2="262.22" stroke="#fff" stroke-opacity="0.42" stroke-width="0.9"/>
<line x1="585.3" y1="148.4" x2="585.3" y2="262.22" stroke="#fff" stroke-opacity="0.42" stroke-width="0.9"/>
<line x1="593.7" y1="148.4" x2="593.7" y2="262.22" stroke="#fff" stroke-opacity="0.42" stroke-width="0.9"/>
<line x1="602.1" y1="148.4" x2="602.1" y2="262.22" stroke="#fff" stroke-opacity="0.42" stroke-width="0.9"/>
<line x1="560.1" y1="229.7" x2="560.1" y2="262.22" stroke="#a89a1c" stroke-opacity="0.85" stroke-width="1.2"/>
<line x1="568.5" y1="229.7" x2="568.5" y2="262.22" stroke="#a89a1c" stroke-opacity="0.85" stroke-width="1.2"/>
<text x="300" y="154.7" class="rl" textLength="174" lengthAdjust="spacingAndGlyphs">fenclorim (4h) / solvent treated root culture samples (4h)</text>
<text x="300" y="163.3" class="rl" textLength="185" lengthAdjust="spacingAndGlyphs">phytoprostane A1 (Col-0) / solvent treated (Col-0) seedlings</text>
<text x="300" y="172.3" class="rl" textLength="92" lengthAdjust="spacingAndGlyphs">TIBA / mock treated seedlings</text>
<text x="300" y="181.2" class="rl" textLength="159.2" lengthAdjust="spacingAndGlyphs">CMP (4h) / solvent treated root culture samples (4h)</text>
<text x="300" y="189.3" class="rl" textLength="182.3" lengthAdjust="spacingAndGlyphs">fenclorim (24h) / solvent treated root culture samples (24h)</text>
<text x="300" y="197.9" class="rl" textLength="169.1" lengthAdjust="spacingAndGlyphs">4-thiazolidinone/acetic acid / solvent treated seedlings</text>
<text x="300" y="206.3" class="rl" textLength="139.7" lengthAdjust="spacingAndGlyphs">furyl acrylate ester / solvent treated seedlings</text>
<text x="300" y="212.9" class="rl" textLength="166.9" lengthAdjust="spacingAndGlyphs">CMP (24h) / solvent treated root culture samples (24h)</text>
<text x="300" y="220.7" class="rl" textLength="164" lengthAdjust="spacingAndGlyphs">dicamba (10h) / H2O treated seedling samples (10h)</text>
<text x="300" y="227.9" class="rl" textLength="191" lengthAdjust="spacingAndGlyphs">oligomycin (4h) / solvent treated seedling culture samples (4h)</text>
<text x="300" y="234.7" class="rl" textLength="112.4" lengthAdjust="spacingAndGlyphs">germination (48h) / seed desiccation</text>
<text x="300" y="243.3" class="rl" textLength="246.9" lengthAdjust="spacingAndGlyphs">P. syringae pv. tomato study 2 (DC3000 hrcC-) / P. syringae pv. tomato study ...</text>
<text x="300" y="251.3" class="rl" textLength="112.4" lengthAdjust="spacingAndGlyphs">germination (12h) / seed desiccation</text>
<text x="300" y="259.9" class="rl" textLength="112.4" lengthAdjust="spacingAndGlyphs">germination (24h) / seed desiccation</text>
<text x="651.1" y="137.4" class="tb" text-anchor="middle">| 3 |</text>
<text x="700.4" y="137.4" class="tb" text-anchor="end">0.001</text>
<text x="604.8" y="145.7" class="tb" textLength="30.4" lengthAdjust="spacingAndGlyphs">Log(2)-ratio</text>
<text x="642.3" y="145.7" class="tb" textLength="32.5" lengthAdjust="spacingAndGlyphs">Fold-Change</text>
<text x="682" y="145.7" class="tb" textLength="19.7" lengthAdjust="spacingAndGlyphs">p-value</text>
<text x="632.1" y="155.8" class="tb" text-anchor="end">4.02</text>
<text x="671.7" y="155.8" class="tb" text-anchor="end">16.13</text>
<text x="686" y="155.8" class="tb" textLength="16.7" lengthAdjust="spacingAndGlyphs">&lt;0.001</text>
<text x="632.1" y="164.5" class="tb" text-anchor="end">3.16</text>
<text x="671.7" y="164.5" class="tb" text-anchor="end">9.11</text>
<text x="686" y="164.5" class="tb" textLength="16.7" lengthAdjust="spacingAndGlyphs">&lt;0.001</text>
<text x="632.1" y="173.5" class="tb" text-anchor="end">3.08</text>
<text x="671.7" y="173.5" class="tb" text-anchor="end">8.44</text>
<text x="686" y="173.5" class="tb" textLength="16.7" lengthAdjust="spacingAndGlyphs">&lt;0.001</text>
<text x="632.1" y="182.1" class="tb" text-anchor="end">2.81</text>
<text x="671.7" y="182.1" class="tb" text-anchor="end">7.00</text>
<text x="686" y="182.1" class="tb" textLength="16.7" lengthAdjust="spacingAndGlyphs">&lt;0.001</text>
<text x="632.1" y="190.5" class="tb" text-anchor="end">2.72</text>
<text x="671.7" y="190.5" class="tb" text-anchor="end">6.73</text>
<text x="686" y="190.5" class="tb" textLength="16.7" lengthAdjust="spacingAndGlyphs">&lt;0.001</text>
<text x="632.1" y="199" class="tb" text-anchor="end">2.63</text>
<text x="671.7" y="199" class="tb" text-anchor="end">6.20</text>
<text x="686" y="199" class="tb" textLength="16.7" lengthAdjust="spacingAndGlyphs">&lt;0.001</text>
<text x="632.1" y="207.3" class="tb" text-anchor="end">2.44</text>
<text x="671.7" y="207.3" class="tb" text-anchor="end">5.43</text>
<text x="686" y="207.3" class="tb" textLength="16.7" lengthAdjust="spacingAndGlyphs">&lt;0.001</text>
<text x="632.1" y="214.5" class="tb" text-anchor="end">2.12</text>
<text x="671.7" y="214.5" class="tb" text-anchor="end">4.36</text>
<text x="686" y="214.5" class="tb" textLength="16.7" lengthAdjust="spacingAndGlyphs">&lt;0.001</text>
<text x="632.1" y="222.3" class="tb" text-anchor="end">1.97</text>
<text x="671.7" y="222.3" class="tb" text-anchor="end">3.91</text>
<text x="686" y="222.3" class="tb" textLength="16.7" lengthAdjust="spacingAndGlyphs">&lt;0.001</text>
<text x="632.1" y="229.4" class="tb" text-anchor="end">1.94</text>
<text x="671.7" y="229.4" class="tb" text-anchor="end">3.81</text>
<text x="686" y="229.4" class="tb" textLength="16.7" lengthAdjust="spacingAndGlyphs">&lt;0.001</text>
<text x="632.1" y="237.2" class="tb" text-anchor="end">−1.85</text>
<text x="671.7" y="237.2" class="tb" text-anchor="end">−3.61</text>
<text x="686" y="237.2" class="tb" textLength="16.7" lengthAdjust="spacingAndGlyphs">&lt;0.001</text>
<text x="632.1" y="245.4" class="tb" text-anchor="end">−1.85</text>
<text x="671.7" y="245.4" class="tb" text-anchor="end">−3.62</text>
<text x="686" y="245.4" class="tb" textLength="16.7" lengthAdjust="spacingAndGlyphs">&lt;0.001</text>
<text x="632.1" y="253.9" class="tb" text-anchor="end">−1.93</text>
<text x="671.7" y="253.9" class="tb" text-anchor="end">−3.80</text>
<text x="686" y="253.9" class="tb" textLength="16.7" lengthAdjust="spacingAndGlyphs">&lt;0.001</text>
<text x="632.1" y="262.6" class="tb" text-anchor="end">−2.22</text>
<text x="671.7" y="262.6" class="tb" text-anchor="end">−4.66</text>
<text x="686" y="262.6" class="tb" textLength="16.7" lengthAdjust="spacingAndGlyphs">&lt;0.001</text>
</svg>
</body></html>
